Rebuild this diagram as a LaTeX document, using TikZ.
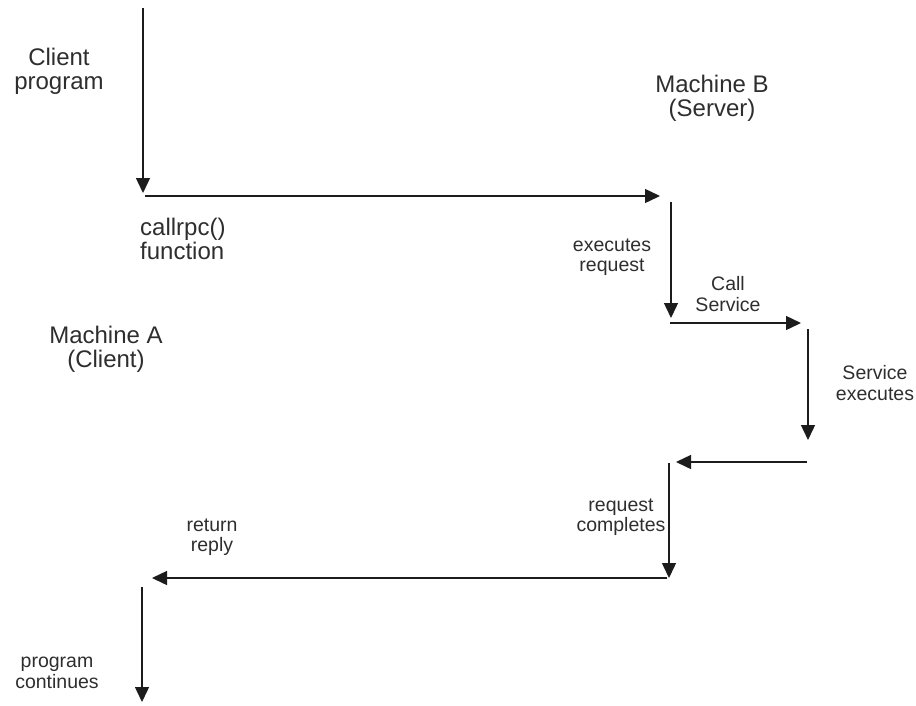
\documentclass[tikz,border=0pt]{standalone}
\usepackage{fontspec}
\setmainfont{Liberation Sans}
\usetikzlibrary{arrows.meta}
\definecolor{linecol}{HTML}{1C1C1C}
\definecolor{textcol}{HTML}{2E2E2E}
\begin{document}
\begin{tikzpicture}[x=1pt,y=-1pt,
  flow/.style={draw=linecol, line width=1.4pt, -{Triangle[length=15pt,width=14pt]}},
  big/.style={text=textcol, align=center, inner sep=0pt, font=\fontsize{24}{24}\selectfont},
  small/.style={text=textcol, align=center, inner sep=0pt, font=\fontsize{19.5}{20.5}\selectfont}]
\useasboundingbox (0,0) rectangle (916,705);

% end points of the message path
\coordinate (a0) at (143,8);   \coordinate (a1) at (143,193);
\coordinate (b0) at (145,196); \coordinate (b1) at (660,196);
\coordinate (c0) at (671,202); \coordinate (c1) at (671,318);
\coordinate (d0) at (670,323); \coordinate (d1) at (801,323);
\coordinate (e0) at (808,329); \coordinate (e1) at (808,440);
\coordinate (f0) at (807,462); \coordinate (f1) at (676,462);
\coordinate (g0) at (669,463); \coordinate (g1) at (669,578);
\coordinate (h0) at (667,578); \coordinate (h1) at (152,578);
\coordinate (i0) at (142,587); \coordinate (i1) at (142,702);

% flow of control between client and server
\draw[flow] (a0) -- (a1);
\draw[flow] (b0) -- (b1);
\draw[flow] (c0) -- (c1);
\draw[flow] (d0) -- (d1);
\draw[flow] (e0) -- (e1);
\draw[flow] (f0) -- (f1);
\draw[flow] (g0) -- (g1);
\draw[flow] (h0) -- (h1);
\draw[flow] (i0) -- (i1);

% labels
\node[big] (client)  at (59,71)  {Client\\program};
\node[big] (machB)   at (712,98) {Machine B\\(Server)};
\node[big, align=left, anchor=west] (callrpc) at (140,239) {callrpc()\\function};
\node[big] (machA)   at (106,349) {Machine A\\(Client)};
\node[small] (exreq) at (612,257) {executes\\request};
\node[small] (call)  at (728,294) {Call\\Service};
\node[small] (svc)   at (875,383) {Service\\executes};
\node[small] (rqc)   at (621,517) {request\\completes};
\node[small] (ret)   at (212,537) {return\\reply};
\node[small] (cont)  at (57,673)  {program\\continues};
\end{tikzpicture}
\end{document}
